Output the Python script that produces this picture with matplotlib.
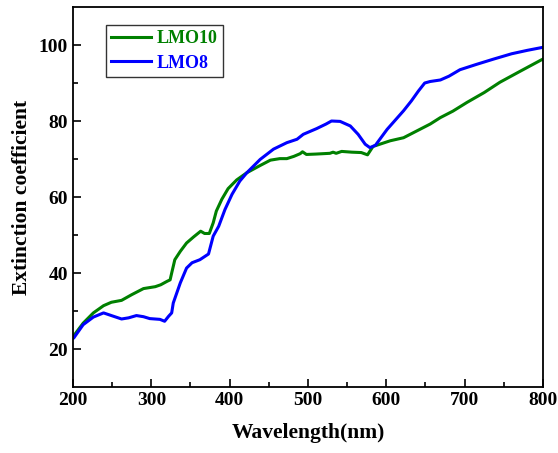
import matplotlib
matplotlib.use("Agg")
import matplotlib.pyplot as plt
import numpy as np

# LMO10 (green)
wl_lmo10 = [200, 201, 213, 226, 239, 249, 262, 275, 290, 305, 312, 320, 324, 326, 330, 337, 345, 354, 363,
            368, 374, 379, 383, 390, 398, 409, 422, 439, 452, 464, 473, 482, 490, 493, 498, 510, 528, 532,
            536, 543, 556, 568, 576, 583, 605, 622, 639, 656, 669, 685, 703, 725, 745, 770, 798, 800]
ext_lmo10 = [23.0, 23.5, 26.8, 29.5, 31.4, 32.3, 32.8, 34.3, 35.9, 36.4, 36.9, 37.8, 38.2, 40.0, 43.5, 45.7, 47.9, 49.5, 51.0,
             50.4, 50.4, 53.2, 56.3, 59.4, 62.2, 64.5, 66.4, 68.3, 69.7, 70.1, 70.1, 70.7, 71.4, 71.9, 71.2, 71.3, 71.5, 71.8,
             71.5, 72.0, 71.8, 71.7, 71.1, 73.3, 74.8, 75.6, 77.4, 79.2, 80.9, 82.6, 84.9, 87.5, 90.2, 93.0, 96.1, 96.3]

# LMO8 (blue)
wl_lmo8 = [200, 201, 213, 226, 239, 249, 262, 271, 281, 290, 298, 311, 317, 322, 326, 328, 337, 345, 352, 362,
           373, 379, 386, 394, 403, 413, 422, 439, 456, 473, 486, 494, 511, 523, 530, 541, 554, 564,
           573, 579, 586, 601, 622, 632, 641, 649, 656, 669, 680, 694, 715, 737, 760, 780, 800]
ext_lmo8 = [22.8, 22.9, 26.4, 28.4, 29.5, 28.8, 27.9, 28.2, 28.8, 28.5, 28.0, 27.8, 27.3, 28.6, 29.5, 32.1, 37.4, 41.3, 42.7, 43.5,
            45.0, 49.7, 52.3, 56.7, 60.7, 64.2, 66.4, 69.9, 72.6, 74.3, 75.2, 76.5, 78.0, 79.2, 80.0, 79.9, 78.7, 76.5,
            73.9, 73.0, 73.6, 77.8, 82.7, 85.3, 87.9, 90.0, 90.4, 90.8, 91.8, 93.5, 94.9, 96.3, 97.7, 98.6, 99.4]

plt.rcParams['font.family'] = ['Liberation Serif', 'DejaVu Serif']
plt.rcParams['font.weight'] = 'bold'

fig = plt.figure(figsize=(5.58, 4.53), dpi=100)
ax = fig.add_axes([0.1308, 0.1457, 0.8423, 0.8388])

ax.plot(wl_lmo10, ext_lmo10, color='#008000', lw=2.2, label='LMO10', solid_joinstyle='round')
ax.plot(wl_lmo8, ext_lmo8, color='#0000FF', lw=2.2, label='LMO8', solid_joinstyle='round')

ax.set_xlim(200, 800)
ax.set_ylim(10, 110)
ax.set_xticks([200, 300, 400, 500, 600, 700, 800])
ax.set_xticks(np.arange(250, 800, 100), minor=True)
ax.set_yticks([20, 40, 60, 80, 100])
ax.set_yticks([30, 50, 70, 90], minor=True)
ax.tick_params(which='both', direction='in', top=False, right=False, labelsize=14, width=1.2)
ax.tick_params(which='major', length=6)
ax.tick_params(which='minor', length=3.5)
for lbl in ax.get_xticklabels() + ax.get_yticklabels():
    lbl.set_fontweight('bold')
for s in ax.spines.values():
    s.set_linewidth(1.3)

ax.set_xlabel('Wavelength(nm)', fontsize=15.5, fontweight='bold', labelpad=10)
ax.set_ylabel('Extinction coefficient', fontsize=15.5, fontweight='bold', labelpad=5)

leg = ax.legend(loc='upper left', bbox_to_anchor=(0.07, 0.953), fontsize=13, frameon=True,
                fancybox=False, edgecolor='black', handlelength=2.2, handletextpad=0.3,
                borderpad=0.3, labelspacing=0.4, borderaxespad=0)
leg.get_frame().set_linewidth(1.0)
for txt, c in zip(leg.get_texts(), ['#008000', '#0000FF']):
    txt.set_color(c)
    txt.set_fontweight('bold')

fig.savefig('out.png', dpi=100)
